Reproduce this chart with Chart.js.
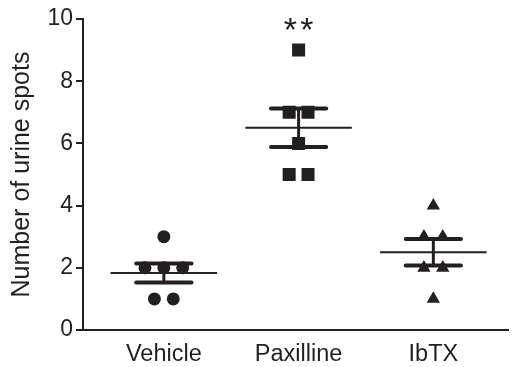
<!DOCTYPE html>
<html><head><meta charset="utf-8">
<script src="https://cdn.jsdelivr.net/npm/chart.js@4"></script>
<style>html,body{margin:0;padding:0;background:#fff}</style>
</head><body>
<canvas id="c" width="518" height="367"></canvas>
<script>
const categories = ['Vehicle', 'Paxilline', 'IbTX'];
const vehicle = [3, 2, 2, 2, 1, 1];
const paxilline = [9, 7, 7, 6, 5, 5];
const ibtx = [4, 3, 3, 2, 2, 1];
const yTicks = [0, 2, 4, 6, 8, 10];
const significance = ['', '**', ''];
const yTitle = 'Number of urine spots';

const groups = [vehicle, paxilline, ibtx];
const styles = ['circle', 'rect', 'triangle'];
const radii = [6.5, 9.2, 7.7];
const INK = '#231f20';
const JIT = 0.14, MEAN_HALF = 0.395, SEM_HALF = 0.205;

function stats(arr) {
  const n = arr.length;
  const m = arr.reduce((a, b) => a + b, 0) / n;
  const v = arr.reduce((a, b) => a + (b - m) * (b - m), 0) / (n - 1);
  return { mean: m, sem: Math.sqrt(v / n) };
}
function jitter(arr, cx) {
  const counts = {}, seen = {};
  arr.forEach(v => counts[v] = (counts[v] || 0) + 1);
  return arr.map(v => {
    const k = seen[v] = (seen[v] || 0) + 1;
    return { x: cx + (k - 1 - (counts[v] - 1) / 2) * JIT, y: v };
  });
}

const datasets = [];
groups.forEach((g, i) => {
  const cx = i + 1, s = stats(g);
  const line = (pts, w, cap) => datasets.push({
    data: pts, showLine: true, pointRadius: 0, borderColor: INK, borderWidth: w,
    borderCapStyle: cap, fill: false, order: 0
  });
  line([{ x: cx - MEAN_HALF, y: s.mean }, { x: cx + MEAN_HALF, y: s.mean }], 2, 'butt');
  line([{ x: cx - SEM_HALF, y: s.mean + s.sem }, { x: cx + SEM_HALF, y: s.mean + s.sem }], 4, 'round');
  line([{ x: cx - SEM_HALF, y: s.mean - s.sem }, { x: cx + SEM_HALF, y: s.mean - s.sem }], 4, 'round');
  line([{ x: cx, y: s.mean - s.sem }, { x: cx, y: s.mean + s.sem }], 3, 'butt');
});
groups.forEach((g, i) => {
  datasets.push({
    data: jitter(g, i + 1), pointStyle: styles[i], pointRadius: radii[i],
    backgroundColor: INK, borderColor: INK, borderWidth: 0, showLine: false, order: 1
  });
});

const starPlugin = {
  id: 'stars',
  afterDatasetsDraw(chart) {
    const { ctx, scales: { x, y } } = chart;
    ctx.save();
    ctx.fillStyle = INK;
    ctx.font = '34px "Liberation Sans", Arial, sans-serif';
    ctx.textAlign = 'center';
    ctx.textBaseline = 'alphabetic';
    significance.forEach((t, i) => {
      if (!t) return;
      const top = Math.max(...groups[i]);
      const px = x.getPixelForValue(i + 1), py = y.getPixelForValue(top) - 9;
      const chars = t.split('');
      chars.forEach((c, k) => {
        ctx.fillText(c, px + (k - (chars.length - 1) / 2) * 16.5, py);
      });
    });
    ctx.restore();
  }
};

new Chart(document.getElementById('c'), {
  type: 'scatter',
  data: { datasets },
  plugins: [starPlugin],
  options: {
    responsive: false,
    animation: false,
    devicePixelRatio: 1,
    layout: { padding: { top: 19, right: 1, left: 0, bottom: 0 } },
    plugins: { legend: { display: false }, tooltip: { enabled: false } },
    scales: {
      x: {
        type: 'linear', min: 0.4, max: 3.56,
        afterBuildTicks(scale) { scale.ticks = categories.map((c, i) => ({ value: i + 1 })); },
        afterFit(scale) { scale.height = 37; },
        grid: { display: false, drawTicks: false, tickLength: 0 },
        border: { display: true, color: INK, width: 2 },
        ticks: {
          padding: 10, color: INK, autoSkip: false, maxRotation: 0,
          font: { family: '"Liberation Sans", Arial, sans-serif', size: 23.5 },
          callback: v => categories[v - 1] || ''
        }
      },
      y: {
        min: 0, max: 10,
        afterBuildTicks(scale) { scale.ticks = yTicks.map(v => ({ value: v })); },
        afterFit(scale) { scale.width = 83; },
        grid: { display: true, drawOnChartArea: false, drawTicks: true, tickLength: 7, color: INK, lineWidth: 2 },
        border: { display: true, color: INK, width: 2 },
        ticks: {
          padding: 3, color: INK,
          font: { family: '"Liberation Sans", Arial, sans-serif', size: 23 }
        },
        title: {
          display: true, text: yTitle, color: INK, padding: { top: 7.5, bottom: 0 },
          font: { family: '"Liberation Sans", Arial, sans-serif', size: 25 }
        }
      }
    }
  }
});
</script>
</body></html>
